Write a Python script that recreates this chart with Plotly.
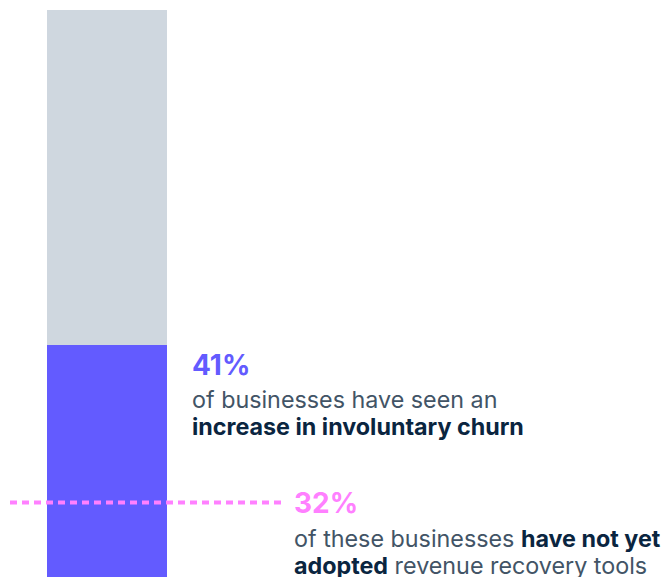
import plotly.graph_objects as go

categories = ["Businesses"]
churn_increase = [41]          # % with increase in involuntary churn
remainder = [100 - churn_increase[0]]
not_adopted_share = 32         # % of those that have not adopted recovery tools

BLUE = "#635BFF"
GREY = "#CFD7DF"
PINK = "#FF80FF"
DARK = "#0A2540"
BODY = "#425466"
FONT = "Inter"

W, H = 665, 577
bar_center_px, bar_w_px = 107, 120
x0 = -bar_center_px / bar_w_px
x1 = (W - bar_center_px) / bar_w_px

fig = go.Figure()
fig.add_trace(go.Bar(x=[0], y=churn_increase, width=1, marker=dict(color=BLUE, line=dict(width=0)),
                     hoverinfo="skip", showlegend=False))
fig.add_trace(go.Bar(x=[0], y=remainder, width=1, marker=dict(color=GREY, line=dict(width=0)),
                     hoverinfo="skip", showlegend=False))

sub_y = churn_increase[0] * not_adopted_share / 100

fig.add_shape(type="line", xref="paper", yref="y", x0=10 / W, x1=281 / W, y0=sub_y, y1=sub_y,
              line=dict(color=PINK, width=4, dash="7px,5px"), layer="above")


def py(px):
    return (577 - px) / 567 * 100


NUM = 28
TXT = 23.3
ann = [
    (190, 365, f"<b>{churn_increase[0]}%</b>", NUM, BLUE),
    (190, 399, "of businesses have seen an", TXT, BODY),
    (190, 426, "<b>increase in involuntary churn</b>", TXT, DARK),
    (292, 503, f"<b>{not_adopted_share}%</b>", NUM, PINK),
    (292, 538, f"of these businesses <b style='color:{DARK}'>have not yet</b>", TXT, BODY),
    (292, 565, f"<b style='color:{DARK}'>adopted</b> revenue recovery tools", TXT, BODY),
]
for xp, yp, text, size, color in ann:
    fig.add_annotation(xref="paper", yref="y", xanchor="left", yanchor="middle", showarrow=False,
                       align="left", x=xp / W, y=py(yp), text=text,
                       font=dict(family=FONT, size=size, color=color))

fig.update_layout(
    barmode="stack", width=W, height=H,
    margin=dict(l=0, r=0, t=10, b=0),
    paper_bgcolor="white", plot_bgcolor="white",
    xaxis=dict(range=[x0, x1], visible=False, fixedrange=True),
    yaxis=dict(range=[0, 100], visible=False, fixedrange=True),
    font=dict(family=FONT),
)
fig.write_html("out.html", config={"displayModeBar": False},
               post_script="document.body.style.margin='0';document.body.style.overflow='hidden';")
